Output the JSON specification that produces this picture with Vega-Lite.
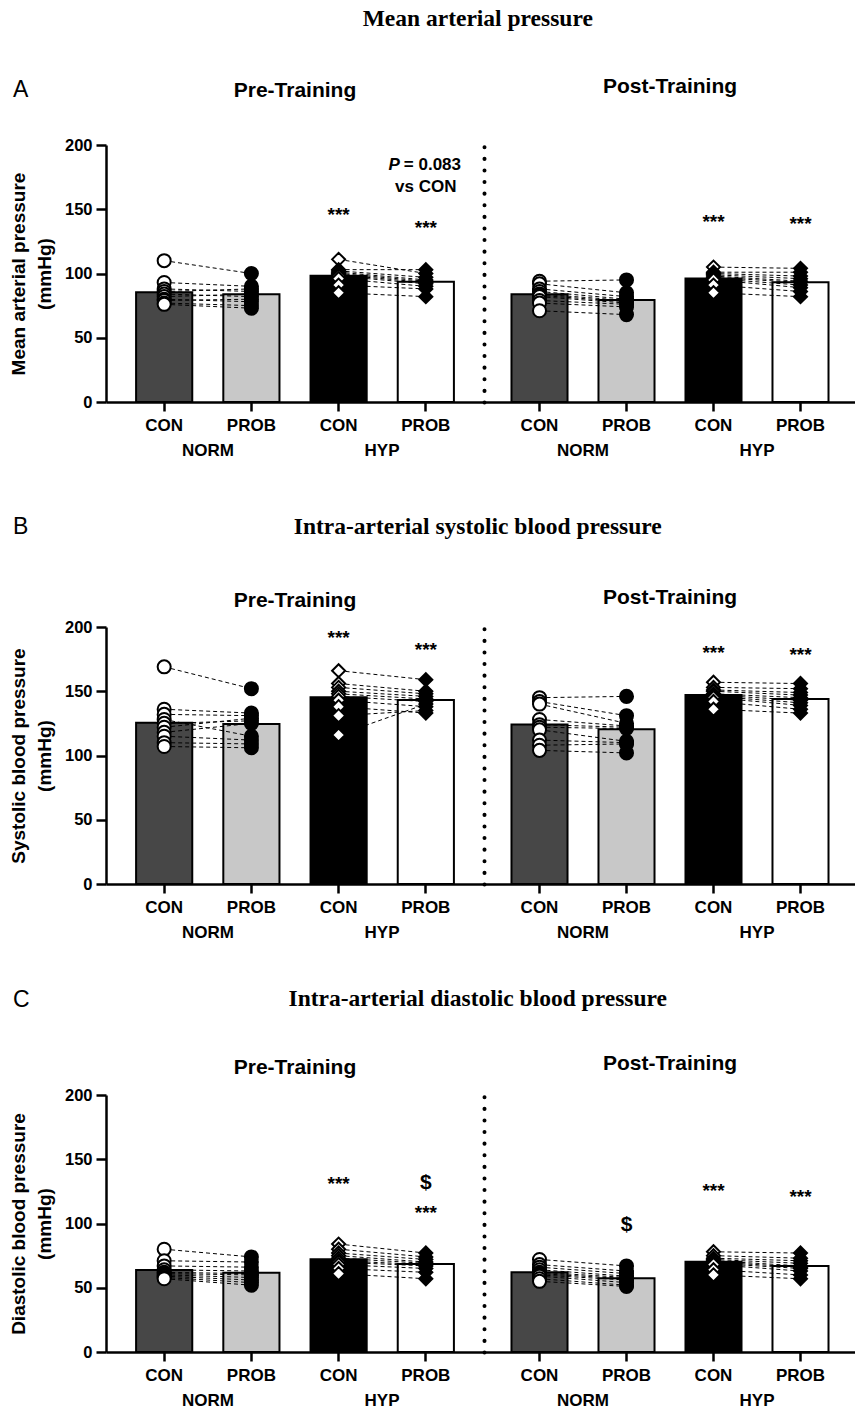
{
"$schema": "https://vega.github.io/schema/vega-lite/v6.json",
"background": "white",
"padding": {"left": 9, "top": 6, "right": 0, "bottom": 0},
"config": {"font": "Liberation Sans", "view": {"stroke": null}, "axis": {"labelFont": "Liberation Sans", "titleFont": "Liberation Sans"}, "title": {"color": "black", "font": "Liberation Sans"}},
"datasets": {
"subj": [
{"p":"A","ph":"Pre","s":"N1","NORM CON":110,"NORM PROB":100},{"p":"A","ph":"Pre","s":"N2","NORM CON":93,"NORM PROB":90},{"p":"A","ph":"Pre","s":"N3","NORM CON":88,"NORM PROB":86},{"p":"A","ph":"Pre","s":"N4","NORM CON":86,"NORM PROB":88},{"p":"A","ph":"Pre","s":"N5","NORM CON":84,"NORM PROB":82},{"p":"A","ph":"Pre","s":"N6","NORM CON":82,"NORM PROB":84},{"p":"A","ph":"Pre","s":"N7","NORM CON":80,"NORM PROB":78},{"p":"A","ph":"Pre","s":"N8","NORM CON":79,"NORM PROB":80},{"p":"A","ph":"Pre","s":"N9","NORM CON":77,"NORM PROB":75},{"p":"A","ph":"Pre","s":"N10","NORM CON":76,"NORM PROB":73},
{"p":"A","ph":"Pre","s":"H1","HYP CON":111,"HYP PROB":100},{"p":"A","ph":"Pre","s":"H2","HYP CON":103,"HYP PROB":103},{"p":"A","ph":"Pre","s":"H3","HYP CON":102,"HYP PROB":97},{"p":"A","ph":"Pre","s":"H4","HYP CON":101,"HYP PROB":95},{"p":"A","ph":"Pre","s":"H5","HYP CON":100,"HYP PROB":94},{"p":"A","ph":"Pre","s":"H6","HYP CON":99,"HYP PROB":93},{"p":"A","ph":"Pre","s":"H7","HYP CON":98,"HYP PROB":92},{"p":"A","ph":"Pre","s":"H8","HYP CON":96,"HYP PROB":90},{"p":"A","ph":"Pre","s":"H9","HYP CON":91,"HYP PROB":88},{"p":"A","ph":"Pre","s":"H10","HYP CON":85,"HYP PROB":82},
{"p":"A","ph":"Post","s":"N1","NORM CON":94,"NORM PROB":95},{"p":"A","ph":"Post","s":"N2","NORM CON":92,"NORM PROB":85},{"p":"A","ph":"Post","s":"N3","NORM CON":88,"NORM PROB":82},{"p":"A","ph":"Post","s":"N4","NORM CON":86,"NORM PROB":80},{"p":"A","ph":"Post","s":"N5","NORM CON":84,"NORM PROB":79},{"p":"A","ph":"Post","s":"N6","NORM CON":83,"NORM PROB":78},{"p":"A","ph":"Post","s":"N7","NORM CON":82,"NORM PROB":77},{"p":"A","ph":"Post","s":"N8","NORM CON":79,"NORM PROB":76},{"p":"A","ph":"Post","s":"N9","NORM CON":77,"NORM PROB":74},{"p":"A","ph":"Post","s":"N10","NORM CON":71,"NORM PROB":68},
{"p":"A","ph":"Post","s":"H1","HYP CON":105,"HYP PROB":104},{"p":"A","ph":"Post","s":"H2","HYP CON":101,"HYP PROB":101},{"p":"A","ph":"Post","s":"H3","HYP CON":100,"HYP PROB":98},{"p":"A","ph":"Post","s":"H4","HYP CON":99,"HYP PROB":96},{"p":"A","ph":"Post","s":"H5","HYP CON":98,"HYP PROB":94},{"p":"A","ph":"Post","s":"H6","HYP CON":97,"HYP PROB":93},{"p":"A","ph":"Post","s":"H7","HYP CON":96,"HYP PROB":91},{"p":"A","ph":"Post","s":"H8","HYP CON":95,"HYP PROB":89},{"p":"A","ph":"Post","s":"H9","HYP CON":91,"HYP PROB":86},{"p":"A","ph":"Post","s":"H10","HYP CON":85,"HYP PROB":82},
{"p":"B","ph":"Pre","s":"N1","NORM CON":169,"NORM PROB":152},{"p":"B","ph":"Pre","s":"N2","NORM CON":136,"NORM PROB":133},{"p":"B","ph":"Pre","s":"N3","NORM CON":132,"NORM PROB":131},{"p":"B","ph":"Pre","s":"N4","NORM CON":128,"NORM PROB":115},{"p":"B","ph":"Pre","s":"N5","NORM CON":125,"NORM PROB":127},{"p":"B","ph":"Pre","s":"N6","NORM CON":122,"NORM PROB":129},{"p":"B","ph":"Pre","s":"N7","NORM CON":118,"NORM PROB":125},{"p":"B","ph":"Pre","s":"N8","NORM CON":115,"NORM PROB":112},{"p":"B","ph":"Pre","s":"N9","NORM CON":110,"NORM PROB":109},{"p":"B","ph":"Pre","s":"N10","NORM CON":107,"NORM PROB":106},
{"p":"B","ph":"Pre","s":"H1","HYP CON":166,"HYP PROB":159},{"p":"B","ph":"Pre","s":"H2","HYP CON":156,"HYP PROB":150},{"p":"B","ph":"Pre","s":"H3","HYP CON":153,"HYP PROB":148},{"p":"B","ph":"Pre","s":"H4","HYP CON":150,"HYP PROB":146},{"p":"B","ph":"Pre","s":"H5","HYP CON":148,"HYP PROB":144},{"p":"B","ph":"Pre","s":"H6","HYP CON":146,"HYP PROB":142},{"p":"B","ph":"Pre","s":"H7","HYP CON":143,"HYP PROB":138},{"p":"B","ph":"Pre","s":"H8","HYP CON":138,"HYP PROB":133},{"p":"B","ph":"Pre","s":"H9","HYP CON":131,"HYP PROB":135},{"p":"B","ph":"Pre","s":"H10","HYP CON":116,"HYP PROB":140},
{"p":"B","ph":"Post","s":"N1","NORM CON":145,"NORM PROB":146},{"p":"B","ph":"Post","s":"N2","NORM CON":142,"NORM PROB":131},{"p":"B","ph":"Post","s":"N3","NORM CON":140,"NORM PROB":125},{"p":"B","ph":"Post","s":"N4","NORM CON":128,"NORM PROB":123},{"p":"B","ph":"Post","s":"N5","NORM CON":124,"NORM PROB":122},{"p":"B","ph":"Post","s":"N6","NORM CON":122,"NORM PROB":121},{"p":"B","ph":"Post","s":"N7","NORM CON":120,"NORM PROB":111},{"p":"B","ph":"Post","s":"N8","NORM CON":112,"NORM PROB":110},{"p":"B","ph":"Post","s":"N9","NORM CON":108,"NORM PROB":109},{"p":"B","ph":"Post","s":"N10","NORM CON":104,"NORM PROB":102},
{"p":"B","ph":"Post","s":"H1","HYP CON":157,"HYP PROB":156},{"p":"B","ph":"Post","s":"H2","HYP CON":153,"HYP PROB":152},{"p":"B","ph":"Post","s":"H3","HYP CON":151,"HYP PROB":149},{"p":"B","ph":"Post","s":"H4","HYP CON":150,"HYP PROB":147},{"p":"B","ph":"Post","s":"H5","HYP CON":148,"HYP PROB":145},{"p":"B","ph":"Post","s":"H6","HYP CON":147,"HYP PROB":143},{"p":"B","ph":"Post","s":"H7","HYP CON":146,"HYP PROB":141},{"p":"B","ph":"Post","s":"H8","HYP CON":145,"HYP PROB":139},{"p":"B","ph":"Post","s":"H9","HYP CON":142,"HYP PROB":136},{"p":"B","ph":"Post","s":"H10","HYP CON":136,"HYP PROB":133},
{"p":"C","ph":"Pre","s":"N1","NORM CON":80,"NORM PROB":74},{"p":"C","ph":"Pre","s":"N2","NORM CON":71,"NORM PROB":70},{"p":"C","ph":"Pre","s":"N3","NORM CON":67,"NORM PROB":66},{"p":"C","ph":"Pre","s":"N4","NORM CON":64,"NORM PROB":63},{"p":"C","ph":"Pre","s":"N5","NORM CON":62,"NORM PROB":61},{"p":"C","ph":"Pre","s":"N6","NORM CON":61,"NORM PROB":60},{"p":"C","ph":"Pre","s":"N7","NORM CON":60,"NORM PROB":58},{"p":"C","ph":"Pre","s":"N8","NORM CON":59,"NORM PROB":56},{"p":"C","ph":"Pre","s":"N9","NORM CON":58,"NORM PROB":54},{"p":"C","ph":"Pre","s":"N10","NORM CON":57,"NORM PROB":52},
{"p":"C","ph":"Pre","s":"H1","HYP CON":84,"HYP PROB":77},{"p":"C","ph":"Pre","s":"H2","HYP CON":80,"HYP PROB":74},{"p":"C","ph":"Pre","s":"H3","HYP CON":77,"HYP PROB":72},{"p":"C","ph":"Pre","s":"H4","HYP CON":75,"HYP PROB":70},{"p":"C","ph":"Pre","s":"H5","HYP CON":73,"HYP PROB":69},{"p":"C","ph":"Pre","s":"H6","HYP CON":71,"HYP PROB":68},{"p":"C","ph":"Pre","s":"H7","HYP CON":70,"HYP PROB":67},{"p":"C","ph":"Pre","s":"H8","HYP CON":68,"HYP PROB":65},{"p":"C","ph":"Pre","s":"H9","HYP CON":65,"HYP PROB":62},{"p":"C","ph":"Pre","s":"H10","HYP CON":61,"HYP PROB":57},
{"p":"C","ph":"Post","s":"N1","NORM CON":72,"NORM PROB":67},{"p":"C","ph":"Post","s":"N2","NORM CON":68,"NORM PROB":63},{"p":"C","ph":"Post","s":"N3","NORM CON":66,"NORM PROB":61},{"p":"C","ph":"Post","s":"N4","NORM CON":64,"NORM PROB":59},{"p":"C","ph":"Post","s":"N5","NORM CON":62,"NORM PROB":58},{"p":"C","ph":"Post","s":"N6","NORM CON":61,"NORM PROB":57},{"p":"C","ph":"Post","s":"N7","NORM CON":60,"NORM PROB":56},{"p":"C","ph":"Post","s":"N8","NORM CON":59,"NORM PROB":54},{"p":"C","ph":"Post","s":"N9","NORM CON":57,"NORM PROB":52},{"p":"C","ph":"Post","s":"N10","NORM CON":55,"NORM PROB":51},
{"p":"C","ph":"Post","s":"H1","HYP CON":78,"HYP PROB":77},{"p":"C","ph":"Post","s":"H2","HYP CON":75,"HYP PROB":73},{"p":"C","ph":"Post","s":"H3","HYP CON":73,"HYP PROB":71},{"p":"C","ph":"Post","s":"H4","HYP CON":72,"HYP PROB":69},{"p":"C","ph":"Post","s":"H5","HYP CON":71,"HYP PROB":67},{"p":"C","ph":"Post","s":"H6","HYP CON":70,"HYP PROB":66},{"p":"C","ph":"Post","s":"H7","HYP CON":69,"HYP PROB":65},{"p":"C","ph":"Post","s":"H8","HYP CON":68,"HYP PROB":63},{"p":"C","ph":"Post","s":"H9","HYP CON":64,"HYP PROB":60},{"p":"C","ph":"Post","s":"H10","HYP CON":60,"HYP PROB":57}
],
"means": [
{"p":"A","ph":"Pre","slot":"NORM CON","mean":85.4},{"p":"A","ph":"Pre","slot":"NORM PROB","mean":83.8},{"p":"A","ph":"Pre","slot":"HYP CON","mean":98.3},{"p":"A","ph":"Pre","slot":"HYP PROB","mean":93.6},
{"p":"A","ph":"Post","slot":"NORM CON","mean":83.8},{"p":"A","ph":"Post","slot":"NORM PROB","mean":79.4},{"p":"A","ph":"Post","slot":"HYP CON","mean":96.2},{"p":"A","ph":"Post","slot":"HYP PROB","mean":93.1},
{"p":"B","ph":"Pre","slot":"NORM CON","mean":125.5},{"p":"B","ph":"Pre","slot":"NORM PROB","mean":124.5},{"p":"B","ph":"Pre","slot":"HYP CON","mean":145.3},{"p":"B","ph":"Pre","slot":"HYP PROB","mean":143.2},
{"p":"B","ph":"Post","slot":"NORM CON","mean":124.2},{"p":"B","ph":"Post","slot":"NORM PROB","mean":120.4},{"p":"B","ph":"Post","slot":"HYP CON","mean":147.0},{"p":"B","ph":"Post","slot":"HYP PROB","mean":144.0},
{"p":"C","ph":"Pre","slot":"NORM CON","mean":63.8},{"p":"C","ph":"Pre","slot":"NORM PROB","mean":61.7},{"p":"C","ph":"Pre","slot":"HYP CON","mean":72.1},{"p":"C","ph":"Pre","slot":"HYP PROB","mean":68.5},
{"p":"C","ph":"Post","slot":"NORM CON","mean":62.0},{"p":"C","ph":"Post","slot":"NORM PROB","mean":57.3},{"p":"C","ph":"Post","slot":"HYP CON","mean":70.3},{"p":"C","ph":"Post","slot":"HYP PROB","mean":66.9}
],
"notes": [
{"p":"A","ph":"Pre","slot":"HYP CON","v":149.4,"label":"***"},
{"p":"A","ph":"Pre","slot":"HYP PROB","v":139,"label":"***"},
{"p":"A","ph":"Pre","slot":"HYP PROB","v":184.4,"label":"P"},
{"p":"A","ph":"Pre","slot":"HYP PROB","v":184.4,"label":"= 0.083"},
{"p":"A","ph":"Pre","slot":"HYP PROB","v":167.6,"label":"vs CON"},
{"p":"A","ph":"Post","slot":"HYP CON","v":144.2,"label":"***"},
{"p":"A","ph":"Post","slot":"HYP PROB","v":142.2,"label":"***"},
{"p":"B","ph":"Pre","slot":"HYP CON","v":195,"label":"***"},
{"p":"B","ph":"Pre","slot":"HYP PROB","v":186,"label":"***"},
{"p":"B","ph":"Post","slot":"HYP CON","v":183.4,"label":"***"},
{"p":"B","ph":"Post","slot":"HYP PROB","v":182.1,"label":"***"},
{"p":"C","ph":"Pre","slot":"HYP CON","v":134.4,"label":"***"},
{"p":"C","ph":"Pre","slot":"HYP PROB","v":131.3,"label":"$"},
{"p":"C","ph":"Pre","slot":"HYP PROB","v":111.8,"label":"***"},
{"p":"C","ph":"Post","slot":"NORM PROB","v":98.8,"label":"$"},
{"p":"C","ph":"Post","slot":"HYP CON","v":129.2,"label":"***"},
{"p":"C","ph":"Post","slot":"HYP PROB","v":124.7,"label":"***"}
],
"groups": [{"g":"NORM"},{"g":"HYP"}]
},
"spacing": 46,
"vconcat": [
{"spacing": 56, "vconcat": [
{
"title": {"text": "Mean arterial pressure", "font": "Liberation Serif", "fontSize": 23.5, "fontWeight": "bold", "color": "black", "anchor": "middle", "frame": "bounds", "baseline": "bottom", "offset": 22, "dx": 45},
"bounds": "flush", "spacing": 0,
"hconcat": [
{"width": 93, "height": 257, "data": {"values": [{}]}, "mark": {"type": "text", "text": ""}, "encoding": {},
 "title": {"text": "A", "anchor": "start", "frame": "group", "fontSize": 23, "fontWeight": "normal", "color": "black", "baseline": "bottom", "offset": 20}},
{"width": 378, "height": 257,
 "title": {"text": "Pre-Training", "fontSize": 21, "fontWeight": "bold", "color": "black", "frame": "group", "anchor": "middle", "baseline": "bottom", "offset": 15},
 "layer": [
  {"layer": [
   {"data": {"name": "means"}, "transform": [{"filter": "datum.p=='A' && datum.ph=='Pre'"}],
    "mark": {"type": "bar", "stroke": "black", "strokeWidth": 2},
    "encoding": {
     "x": {"field": "slot", "type": "nominal", "scale": {"domain": ["NORM CON","NORM PROB","HYP CON","HYP PROB"], "paddingInner": 0.356, "paddingOuter": 0.345},
       "axis": {"title": null, "labelExpr": "split(datum.label, ' ')[1]", "labelAngle": 0, "labelFontSize": 17, "labelFontWeight": "bold", "labelColor": "black", "labelPadding": 6, "tickSize": 9, "tickWidth": 2.5, "tickColor": "black", "domainColor": "black", "domainWidth": 2.5, "bandPosition": 0.5, "grid": false}},
     "y": {"field": "mean", "type": "quantitative", "scale": {"domain": [0, 200], "nice": false},
       "axis": {"title": ["Mean arterial pressure", "(mmHg)"], "titleFontSize": 19, "titleFontWeight": "bold", "titleColor": "black", "titlePadding": 10, "titleLineHeight": 26, "values": [0, 50, 100, 150, 200], "labelFontSize": 16.5, "labelFontWeight": "bold", "labelColor": "black", "labelPadding": 4, "tickSize": 10, "tickWidth": 2.5, "tickColor": "black", "domainColor": "black", "domainWidth": 2.5, "grid": false}},
     "color": {"field": "slot", "type": "nominal", "scale": {"domain": ["NORM CON","NORM PROB","HYP CON","HYP PROB"], "range": ["#474747", "#c8c8c8", "#000000", "#ffffff"]}, "legend": null}}},
   {"data": {"name": "subj"}, "transform": [{"filter": "datum.p=='A' && datum.ph=='Pre'"}, {"fold": ["NORM CON","NORM PROB","HYP CON","HYP PROB"], "as": ["slot", "v"]}, {"filter": "isValid(datum.v)"}],
    "mark": {"type": "line", "color": "black", "strokeWidth": 1, "strokeDash": [4, 3]},
    "encoding": {"x": {"field": "slot", "type": "nominal"}, "y": {"field": "v", "type": "quantitative"}, "detail": {"field": "s", "type": "nominal"}}},
   {"data": {"name": "subj"}, "transform": [{"filter": "datum.p=='A' && datum.ph=='Pre'"}, {"fold": ["NORM CON","NORM PROB","HYP CON","HYP PROB"], "as": ["slot", "v"]}, {"filter": "isValid(datum.v)"}],
    "mark": {"type": "point", "filled": true, "stroke": "black", "strokeWidth": 2, "size": 170, "opacity": 1},
    "encoding": {"x": {"field": "slot", "type": "nominal"}, "y": {"field": "v", "type": "quantitative"},
     "shape": {"field": "slot", "type": "nominal", "scale": {"domain": ["NORM CON","NORM PROB","HYP CON","HYP PROB"], "range": ["circle", "circle", "diamond", "diamond"]}, "legend": null},
     "fill": {"field": "slot", "type": "nominal", "scale": {"domain": ["NORM CON","NORM PROB","HYP CON","HYP PROB"], "range": ["#ffffff", "#000000", "#ffffff", "#000000"]}, "legend": null}}},
   {"data": {"name": "notes"}, "transform": [{"filter": "datum.p=='A' && datum.ph=='Pre' && datum.label=='***'"}],
    "mark": {"type": "text", "fontSize": 19, "fontWeight": "bold", "color": "black", "dy": 5},
    "encoding": {"x": {"field": "slot", "type": "nominal"}, "y": {"field": "v", "type": "quantitative"}, "text": {"field": "label"}}},
   {"data": {"name": "notes"}, "transform": [{"filter": "datum.p=='A' && datum.ph=='Pre' && datum.label=='vs CON'"}],
    "mark": {"type": "text", "fontSize": 17, "fontWeight": "bold", "color": "black"},
    "encoding": {"x": {"field": "slot", "type": "nominal"}, "y": {"field": "v", "type": "quantitative"}, "text": {"field": "label"}}},
   {"data": {"name": "notes"}, "transform": [{"filter": "datum.p=='A' && datum.ph=='Pre' && datum.label=='= 0.083'"}],
    "mark": {"type": "text", "fontSize": 17, "fontWeight": "bold", "color": "black", "align": "left", "dx": -22},
    "encoding": {"x": {"field": "slot", "type": "nominal"}, "y": {"field": "v", "type": "quantitative"}, "text": {"field": "label"}}},
   {"data": {"name": "notes"}, "transform": [{"filter": "datum.p=='A' && datum.ph=='Pre' && datum.label=='P'"}],
    "mark": {"type": "text", "fontSize": 17, "fontWeight": "bold", "fontStyle": "italic", "color": "black", "align": "right", "dx": -26},
    "encoding": {"x": {"field": "slot", "type": "nominal"}, "y": {"field": "v", "type": "quantitative"}, "text": {"field": "label"}}}
  ]},
  {"data": {"name": "groups"}, "mark": {"type": "point", "opacity": 0},
   "encoding": {"x": {"field": "g", "type": "nominal", "scale": {"type": "band", "domain": ["NORM", "HYP"], "paddingInner": 0, "paddingOuter": 0.086},
     "axis": {"orient": "bottom", "title": null, "domain": false, "ticks": false, "labelPadding": 40, "labelFontSize": 17, "labelFontWeight": "bold", "labelColor": "black", "labelAngle": 0, "grid": false}}}}
 ],
 "resolve": {"scale": {"x": "independent"}}
},
{"width": 372, "height": 257,
 "title": {"text": "Post-Training", "fontSize": 21, "fontWeight": "bold", "color": "black", "frame": "group", "anchor": "middle", "baseline": "bottom", "offset": 27},
 "layer": [
  {"layer": [
   {"data": {"name": "means"}, "transform": [{"filter": "datum.p=='A' && datum.ph=='Post'"}],
    "mark": {"type": "bar", "stroke": "black", "strokeWidth": 2},
    "encoding": {
     "x": {"field": "slot", "type": "nominal", "scale": {"domain": ["NORM CON","NORM PROB","HYP CON","HYP PROB"], "paddingInner": 0.356, "paddingOuter": 0.316},
       "axis": {"title": null, "labelExpr": "split(datum.label, ' ')[1]", "labelAngle": 0, "labelFontSize": 17, "labelFontWeight": "bold", "labelColor": "black", "labelPadding": 6, "tickSize": 9, "tickWidth": 2.5, "tickColor": "black", "domainColor": "black", "domainWidth": 2.5, "bandPosition": 0.5, "grid": false}},
     "y": {"field": "mean", "type": "quantitative", "scale": {"domain": [0, 200], "nice": false},
       "axis": {"title": null, "labels": false, "ticks": false, "grid": false, "domainColor": "black", "domainWidth": 4, "domainDash": [0.1, 11.5], "domainCap": "round"}},
     "color": {"field": "slot", "type": "nominal", "scale": {"domain": ["NORM CON","NORM PROB","HYP CON","HYP PROB"], "range": ["#474747", "#c8c8c8", "#000000", "#ffffff"]}, "legend": null}}},
   {"data": {"name": "subj"}, "transform": [{"filter": "datum.p=='A' && datum.ph=='Post'"}, {"fold": ["NORM CON","NORM PROB","HYP CON","HYP PROB"], "as": ["slot", "v"]}, {"filter": "isValid(datum.v)"}],
    "mark": {"type": "line", "color": "black", "strokeWidth": 1, "strokeDash": [4, 3]},
    "encoding": {"x": {"field": "slot", "type": "nominal"}, "y": {"field": "v", "type": "quantitative"}, "detail": {"field": "s", "type": "nominal"}}},
   {"data": {"name": "subj"}, "transform": [{"filter": "datum.p=='A' && datum.ph=='Post'"}, {"fold": ["NORM CON","NORM PROB","HYP CON","HYP PROB"], "as": ["slot", "v"]}, {"filter": "isValid(datum.v)"}],
    "mark": {"type": "point", "filled": true, "stroke": "black", "strokeWidth": 2, "size": 170, "opacity": 1},
    "encoding": {"x": {"field": "slot", "type": "nominal"}, "y": {"field": "v", "type": "quantitative"},
     "shape": {"field": "slot", "type": "nominal", "scale": {"domain": ["NORM CON","NORM PROB","HYP CON","HYP PROB"], "range": ["circle", "circle", "diamond", "diamond"]}, "legend": null},
     "fill": {"field": "slot", "type": "nominal", "scale": {"domain": ["NORM CON","NORM PROB","HYP CON","HYP PROB"], "range": ["#ffffff", "#000000", "#ffffff", "#000000"]}, "legend": null}}},
   {"data": {"name": "notes"}, "transform": [{"filter": "datum.p=='A' && datum.ph=='Post' && datum.label=='***'"}],
    "mark": {"type": "text", "fontSize": 19, "fontWeight": "bold", "color": "black", "dy": 5},
    "encoding": {"x": {"field": "slot", "type": "nominal"}, "y": {"field": "v", "type": "quantitative"}, "text": {"field": "label"}}}
  ]},
  {"data": {"name": "groups"}, "mark": {"type": "point", "opacity": 0},
   "encoding": {"x": {"field": "g", "type": "nominal", "scale": {"type": "band", "domain": ["NORM", "HYP"], "paddingInner": 0, "paddingOuter": 0.069},
     "axis": {"orient": "bottom", "title": null, "domain": false, "ticks": false, "labelPadding": 40, "labelFontSize": 17, "labelFontWeight": "bold", "labelColor": "black", "labelAngle": 0, "grid": false}}}}
 ],
 "resolve": {"scale": {"x": "independent"}}
}
]
},
{
"title": {"text": "Intra-arterial systolic blood pressure", "font": "Liberation Serif", "fontSize": 23.5, "fontWeight": "bold", "color": "black", "anchor": "middle", "frame": "bounds", "baseline": "bottom", "offset": -46, "dx": 45},
"bounds": "flush", "spacing": 0,
"hconcat": [
{"width": 93, "height": 257, "data": {"values": [{}]}, "mark": {"type": "text", "text": ""}, "encoding": {},
 "title": {"text": "B", "anchor": "start", "frame": "group", "fontSize": 23, "fontWeight": "normal", "color": "black", "baseline": "bottom", "offset": 65}},
{"width": 378, "height": 257,
 "title": {"text": "Pre-Training", "fontSize": 21, "fontWeight": "bold", "color": "black", "frame": "group", "anchor": "middle", "baseline": "bottom", "offset": -13},
 "layer": [
  {"layer": [
   {"data": {"name": "means"}, "transform": [{"filter": "datum.p=='B' && datum.ph=='Pre'"}],
    "mark": {"type": "bar", "stroke": "black", "strokeWidth": 2},
    "encoding": {
     "x": {"field": "slot", "type": "nominal", "scale": {"domain": ["NORM CON","NORM PROB","HYP CON","HYP PROB"], "paddingInner": 0.356, "paddingOuter": 0.345},
       "axis": {"title": null, "labelExpr": "split(datum.label, ' ')[1]", "labelAngle": 0, "labelFontSize": 17, "labelFontWeight": "bold", "labelColor": "black", "labelPadding": 6, "tickSize": 9, "tickWidth": 2.5, "tickColor": "black", "domainColor": "black", "domainWidth": 2.5, "bandPosition": 0.5, "grid": false}},
     "y": {"field": "mean", "type": "quantitative", "scale": {"domain": [0, 200], "nice": false},
       "axis": {"title": ["Systolic blood pressure", "(mmHg)"], "titleFontSize": 19, "titleFontWeight": "bold", "titleColor": "black", "titlePadding": 10, "titleLineHeight": 26, "values": [0, 50, 100, 150, 200], "labelFontSize": 16.5, "labelFontWeight": "bold", "labelColor": "black", "labelPadding": 4, "tickSize": 10, "tickWidth": 2.5, "tickColor": "black", "domainColor": "black", "domainWidth": 2.5, "grid": false}},
     "color": {"field": "slot", "type": "nominal", "scale": {"domain": ["NORM CON","NORM PROB","HYP CON","HYP PROB"], "range": ["#474747", "#c8c8c8", "#000000", "#ffffff"]}, "legend": null}}},
   {"data": {"name": "subj"}, "transform": [{"filter": "datum.p=='B' && datum.ph=='Pre'"}, {"fold": ["NORM CON","NORM PROB","HYP CON","HYP PROB"], "as": ["slot", "v"]}, {"filter": "isValid(datum.v)"}],
    "mark": {"type": "line", "color": "black", "strokeWidth": 1, "strokeDash": [4, 3]},
    "encoding": {"x": {"field": "slot", "type": "nominal"}, "y": {"field": "v", "type": "quantitative"}, "detail": {"field": "s", "type": "nominal"}}},
   {"data": {"name": "subj"}, "transform": [{"filter": "datum.p=='B' && datum.ph=='Pre'"}, {"fold": ["NORM CON","NORM PROB","HYP CON","HYP PROB"], "as": ["slot", "v"]}, {"filter": "isValid(datum.v)"}],
    "mark": {"type": "point", "filled": true, "stroke": "black", "strokeWidth": 2, "size": 170, "opacity": 1},
    "encoding": {"x": {"field": "slot", "type": "nominal"}, "y": {"field": "v", "type": "quantitative"},
     "shape": {"field": "slot", "type": "nominal", "scale": {"domain": ["NORM CON","NORM PROB","HYP CON","HYP PROB"], "range": ["circle", "circle", "diamond", "diamond"]}, "legend": null},
     "fill": {"field": "slot", "type": "nominal", "scale": {"domain": ["NORM CON","NORM PROB","HYP CON","HYP PROB"], "range": ["#ffffff", "#000000", "#ffffff", "#000000"]}, "legend": null}}},
   {"data": {"name": "notes"}, "transform": [{"filter": "datum.p=='B' && datum.ph=='Pre' && datum.label=='***'"}],
    "mark": {"type": "text", "fontSize": 19, "fontWeight": "bold", "color": "black", "dy": 5},
    "encoding": {"x": {"field": "slot", "type": "nominal"}, "y": {"field": "v", "type": "quantitative"}, "text": {"field": "label"}}}
  ]},
  {"data": {"name": "groups"}, "mark": {"type": "point", "opacity": 0},
   "encoding": {"x": {"field": "g", "type": "nominal", "scale": {"type": "band", "domain": ["NORM", "HYP"], "paddingInner": 0, "paddingOuter": 0.086},
     "axis": {"orient": "bottom", "title": null, "domain": false, "ticks": false, "labelPadding": 40, "labelFontSize": 17, "labelFontWeight": "bold", "labelColor": "black", "labelAngle": 0, "grid": false}}}}
 ],
 "resolve": {"scale": {"x": "independent"}}
},
{"width": 372, "height": 257,
 "title": {"text": "Post-Training", "fontSize": 21, "fontWeight": "bold", "color": "black", "frame": "group", "anchor": "middle", "baseline": "bottom", "offset": -2},
 "layer": [
  {"layer": [
   {"data": {"name": "means"}, "transform": [{"filter": "datum.p=='B' && datum.ph=='Post'"}],
    "mark": {"type": "bar", "stroke": "black", "strokeWidth": 2},
    "encoding": {
     "x": {"field": "slot", "type": "nominal", "scale": {"domain": ["NORM CON","NORM PROB","HYP CON","HYP PROB"], "paddingInner": 0.356, "paddingOuter": 0.316},
       "axis": {"title": null, "labelExpr": "split(datum.label, ' ')[1]", "labelAngle": 0, "labelFontSize": 17, "labelFontWeight": "bold", "labelColor": "black", "labelPadding": 6, "tickSize": 9, "tickWidth": 2.5, "tickColor": "black", "domainColor": "black", "domainWidth": 2.5, "bandPosition": 0.5, "grid": false}},
     "y": {"field": "mean", "type": "quantitative", "scale": {"domain": [0, 200], "nice": false},
       "axis": {"title": null, "labels": false, "ticks": false, "grid": false, "domainColor": "black", "domainWidth": 4, "domainDash": [0.1, 11.5], "domainCap": "round"}},
     "color": {"field": "slot", "type": "nominal", "scale": {"domain": ["NORM CON","NORM PROB","HYP CON","HYP PROB"], "range": ["#474747", "#c8c8c8", "#000000", "#ffffff"]}, "legend": null}}},
   {"data": {"name": "subj"}, "transform": [{"filter": "datum.p=='B' && datum.ph=='Post'"}, {"fold": ["NORM CON","NORM PROB","HYP CON","HYP PROB"], "as": ["slot", "v"]}, {"filter": "isValid(datum.v)"}],
    "mark": {"type": "line", "color": "black", "strokeWidth": 1, "strokeDash": [4, 3]},
    "encoding": {"x": {"field": "slot", "type": "nominal"}, "y": {"field": "v", "type": "quantitative"}, "detail": {"field": "s", "type": "nominal"}}},
   {"data": {"name": "subj"}, "transform": [{"filter": "datum.p=='B' && datum.ph=='Post'"}, {"fold": ["NORM CON","NORM PROB","HYP CON","HYP PROB"], "as": ["slot", "v"]}, {"filter": "isValid(datum.v)"}],
    "mark": {"type": "point", "filled": true, "stroke": "black", "strokeWidth": 2, "size": 170, "opacity": 1},
    "encoding": {"x": {"field": "slot", "type": "nominal"}, "y": {"field": "v", "type": "quantitative"},
     "shape": {"field": "slot", "type": "nominal", "scale": {"domain": ["NORM CON","NORM PROB","HYP CON","HYP PROB"], "range": ["circle", "circle", "diamond", "diamond"]}, "legend": null},
     "fill": {"field": "slot", "type": "nominal", "scale": {"domain": ["NORM CON","NORM PROB","HYP CON","HYP PROB"], "range": ["#ffffff", "#000000", "#ffffff", "#000000"]}, "legend": null}}},
   {"data": {"name": "notes"}, "transform": [{"filter": "datum.p=='B' && datum.ph=='Post' && datum.label=='***'"}],
    "mark": {"type": "text", "fontSize": 19, "fontWeight": "bold", "color": "black", "dy": 5},
    "encoding": {"x": {"field": "slot", "type": "nominal"}, "y": {"field": "v", "type": "quantitative"}, "text": {"field": "label"}}}
  ]},
  {"data": {"name": "groups"}, "mark": {"type": "point", "opacity": 0},
   "encoding": {"x": {"field": "g", "type": "nominal", "scale": {"type": "band", "domain": ["NORM", "HYP"], "paddingInner": 0, "paddingOuter": 0.069},
     "axis": {"orient": "bottom", "title": null, "domain": false, "ticks": false, "labelPadding": 40, "labelFontSize": 17, "labelFontWeight": "bold", "labelColor": "black", "labelAngle": 0, "grid": false}}}}
 ],
 "resolve": {"scale": {"x": "independent"}}
}
]
}
]},
{
"title": {"text": "Intra-arterial diastolic blood pressure", "font": "Liberation Serif", "fontSize": 23.5, "fontWeight": "bold", "color": "black", "anchor": "middle", "frame": "bounds", "baseline": "bottom", "offset": -45, "dx": 45},
"bounds": "flush", "spacing": 0,
"hconcat": [
{"width": 93, "height": 257, "data": {"values": [{}]}, "mark": {"type": "text", "text": ""}, "encoding": {},
 "title": {"text": "C", "anchor": "start", "frame": "group", "fontSize": 23, "fontWeight": "normal", "color": "black", "baseline": "bottom", "offset": 60}},
{"width": 378, "height": 257,
 "title": {"text": "Pre-Training", "fontSize": 21, "fontWeight": "bold", "color": "black", "frame": "group", "anchor": "middle", "baseline": "bottom", "offset": -12},
 "layer": [
  {"layer": [
   {"data": {"name": "means"}, "transform": [{"filter": "datum.p=='C' && datum.ph=='Pre'"}],
    "mark": {"type": "bar", "stroke": "black", "strokeWidth": 2},
    "encoding": {
     "x": {"field": "slot", "type": "nominal", "scale": {"domain": ["NORM CON","NORM PROB","HYP CON","HYP PROB"], "paddingInner": 0.356, "paddingOuter": 0.345},
       "axis": {"title": null, "labelExpr": "split(datum.label, ' ')[1]", "labelAngle": 0, "labelFontSize": 17, "labelFontWeight": "bold", "labelColor": "black", "labelPadding": 6, "tickSize": 9, "tickWidth": 2.5, "tickColor": "black", "domainColor": "black", "domainWidth": 2.5, "bandPosition": 0.5, "grid": false}},
     "y": {"field": "mean", "type": "quantitative", "scale": {"domain": [0, 200], "nice": false},
       "axis": {"title": ["Diastolic blood pressure", "(mmHg)"], "titleFontSize": 19, "titleFontWeight": "bold", "titleColor": "black", "titlePadding": 10, "titleLineHeight": 26, "values": [0, 50, 100, 150, 200], "labelFontSize": 16.5, "labelFontWeight": "bold", "labelColor": "black", "labelPadding": 4, "tickSize": 10, "tickWidth": 2.5, "tickColor": "black", "domainColor": "black", "domainWidth": 2.5, "grid": false}},
     "color": {"field": "slot", "type": "nominal", "scale": {"domain": ["NORM CON","NORM PROB","HYP CON","HYP PROB"], "range": ["#474747", "#c8c8c8", "#000000", "#ffffff"]}, "legend": null}}},
   {"data": {"name": "subj"}, "transform": [{"filter": "datum.p=='C' && datum.ph=='Pre'"}, {"fold": ["NORM CON","NORM PROB","HYP CON","HYP PROB"], "as": ["slot", "v"]}, {"filter": "isValid(datum.v)"}],
    "mark": {"type": "line", "color": "black", "strokeWidth": 1, "strokeDash": [4, 3]},
    "encoding": {"x": {"field": "slot", "type": "nominal"}, "y": {"field": "v", "type": "quantitative"}, "detail": {"field": "s", "type": "nominal"}}},
   {"data": {"name": "subj"}, "transform": [{"filter": "datum.p=='C' && datum.ph=='Pre'"}, {"fold": ["NORM CON","NORM PROB","HYP CON","HYP PROB"], "as": ["slot", "v"]}, {"filter": "isValid(datum.v)"}],
    "mark": {"type": "point", "filled": true, "stroke": "black", "strokeWidth": 2, "size": 170, "opacity": 1},
    "encoding": {"x": {"field": "slot", "type": "nominal"}, "y": {"field": "v", "type": "quantitative"},
     "shape": {"field": "slot", "type": "nominal", "scale": {"domain": ["NORM CON","NORM PROB","HYP CON","HYP PROB"], "range": ["circle", "circle", "diamond", "diamond"]}, "legend": null},
     "fill": {"field": "slot", "type": "nominal", "scale": {"domain": ["NORM CON","NORM PROB","HYP CON","HYP PROB"], "range": ["#ffffff", "#000000", "#ffffff", "#000000"]}, "legend": null}}},
   {"data": {"name": "notes"}, "transform": [{"filter": "datum.p=='C' && datum.ph=='Pre' && datum.label=='***'"}],
    "mark": {"type": "text", "fontSize": 19, "fontWeight": "bold", "color": "black", "dy": 5},
    "encoding": {"x": {"field": "slot", "type": "nominal"}, "y": {"field": "v", "type": "quantitative"}, "text": {"field": "label"}}},
   {"data": {"name": "notes"}, "transform": [{"filter": "datum.p=='C' && datum.ph=='Pre' && datum.label=='$'"}],
    "mark": {"type": "text", "fontSize": 21, "fontWeight": "bold", "color": "black"},
    "encoding": {"x": {"field": "slot", "type": "nominal"}, "y": {"field": "v", "type": "quantitative"}, "text": {"field": "label"}}}
  ]},
  {"data": {"name": "groups"}, "mark": {"type": "point", "opacity": 0},
   "encoding": {"x": {"field": "g", "type": "nominal", "scale": {"type": "band", "domain": ["NORM", "HYP"], "paddingInner": 0, "paddingOuter": 0.086},
     "axis": {"orient": "bottom", "title": null, "domain": false, "ticks": false, "labelPadding": 40, "labelFontSize": 17, "labelFontWeight": "bold", "labelColor": "black", "labelAngle": 0, "grid": false}}}}
 ],
 "resolve": {"scale": {"x": "independent"}}
},
{"width": 372, "height": 257,
 "title": {"text": "Post-Training", "fontSize": 21, "fontWeight": "bold", "color": "black", "frame": "group", "anchor": "middle", "baseline": "bottom", "offset": 0},
 "layer": [
  {"layer": [
   {"data": {"name": "means"}, "transform": [{"filter": "datum.p=='C' && datum.ph=='Post'"}],
    "mark": {"type": "bar", "stroke": "black", "strokeWidth": 2},
    "encoding": {
     "x": {"field": "slot", "type": "nominal", "scale": {"domain": ["NORM CON","NORM PROB","HYP CON","HYP PROB"], "paddingInner": 0.356, "paddingOuter": 0.316},
       "axis": {"title": null, "labelExpr": "split(datum.label, ' ')[1]", "labelAngle": 0, "labelFontSize": 17, "labelFontWeight": "bold", "labelColor": "black", "labelPadding": 6, "tickSize": 9, "tickWidth": 2.5, "tickColor": "black", "domainColor": "black", "domainWidth": 2.5, "bandPosition": 0.5, "grid": false}},
     "y": {"field": "mean", "type": "quantitative", "scale": {"domain": [0, 200], "nice": false},
       "axis": {"title": null, "labels": false, "ticks": false, "grid": false, "domainColor": "black", "domainWidth": 4, "domainDash": [0.1, 11.5], "domainCap": "round"}},
     "color": {"field": "slot", "type": "nominal", "scale": {"domain": ["NORM CON","NORM PROB","HYP CON","HYP PROB"], "range": ["#474747", "#c8c8c8", "#000000", "#ffffff"]}, "legend": null}}},
   {"data": {"name": "subj"}, "transform": [{"filter": "datum.p=='C' && datum.ph=='Post'"}, {"fold": ["NORM CON","NORM PROB","HYP CON","HYP PROB"], "as": ["slot", "v"]}, {"filter": "isValid(datum.v)"}],
    "mark": {"type": "line", "color": "black", "strokeWidth": 1, "strokeDash": [4, 3]},
    "encoding": {"x": {"field": "slot", "type": "nominal"}, "y": {"field": "v", "type": "quantitative"}, "detail": {"field": "s", "type": "nominal"}}},
   {"data": {"name": "subj"}, "transform": [{"filter": "datum.p=='C' && datum.ph=='Post'"}, {"fold": ["NORM CON","NORM PROB","HYP CON","HYP PROB"], "as": ["slot", "v"]}, {"filter": "isValid(datum.v)"}],
    "mark": {"type": "point", "filled": true, "stroke": "black", "strokeWidth": 2, "size": 170, "opacity": 1},
    "encoding": {"x": {"field": "slot", "type": "nominal"}, "y": {"field": "v", "type": "quantitative"},
     "shape": {"field": "slot", "type": "nominal", "scale": {"domain": ["NORM CON","NORM PROB","HYP CON","HYP PROB"], "range": ["circle", "circle", "diamond", "diamond"]}, "legend": null},
     "fill": {"field": "slot", "type": "nominal", "scale": {"domain": ["NORM CON","NORM PROB","HYP CON","HYP PROB"], "range": ["#ffffff", "#000000", "#ffffff", "#000000"]}, "legend": null}}},
   {"data": {"name": "notes"}, "transform": [{"filter": "datum.p=='C' && datum.ph=='Post' && datum.label=='***'"}],
    "mark": {"type": "text", "fontSize": 19, "fontWeight": "bold", "color": "black", "dy": 5},
    "encoding": {"x": {"field": "slot", "type": "nominal"}, "y": {"field": "v", "type": "quantitative"}, "text": {"field": "label"}}},
   {"data": {"name": "notes"}, "transform": [{"filter": "datum.p=='C' && datum.ph=='Post' && datum.label=='$'"}],
    "mark": {"type": "text", "fontSize": 21, "fontWeight": "bold", "color": "black"},
    "encoding": {"x": {"field": "slot", "type": "nominal"}, "y": {"field": "v", "type": "quantitative"}, "text": {"field": "label"}}}
  ]},
  {"data": {"name": "groups"}, "mark": {"type": "point", "opacity": 0},
   "encoding": {"x": {"field": "g", "type": "nominal", "scale": {"type": "band", "domain": ["NORM", "HYP"], "paddingInner": 0, "paddingOuter": 0.069},
     "axis": {"orient": "bottom", "title": null, "domain": false, "ticks": false, "labelPadding": 40, "labelFontSize": 17, "labelFontWeight": "bold", "labelColor": "black", "labelAngle": 0, "grid": false}}}}
 ],
 "resolve": {"scale": {"x": "independent"}}
}
]
}
]
}
